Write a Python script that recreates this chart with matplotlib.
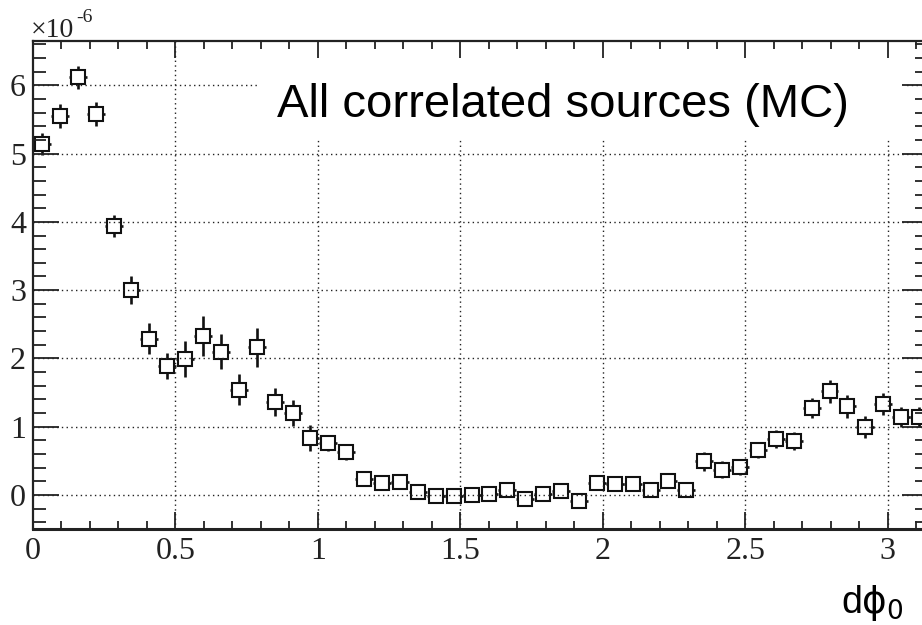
import numpy as np
import matplotlib
matplotlib.use("Agg")
import matplotlib.pyplot as plt
from matplotlib.patches import Rectangle
from matplotlib.ticker import MultipleLocator

# Histogram contents (units of 1e-6), 50 bins over [0, pi]
n_bins = 50
values = [5.14, 5.55, 6.12, 5.58, 3.94, 3.00, 2.29, 1.89, 1.99, 2.33,
          2.10, 1.54, 2.16, 1.36, 1.20, 0.83, 0.76, 0.625, 0.234, 0.17,
          0.195, 0.04, -0.02, -0.02, 0.00, 0.02, 0.07, -0.06, 0.01, 0.05,
          -0.09, 0.17, 0.16, 0.16, 0.07, 0.20, 0.07, 0.49, 0.37, 0.41,
          0.66, 0.82, 0.79, 1.27, 1.52, 1.30, 1.00, 1.33, 1.14, 1.14]
errors = [0.16, 0.17, 0.17, 0.17, 0.16, 0.20, 0.23, 0.19, 0.26, 0.29,
          0.26, 0.23, 0.28, 0.20, 0.19, 0.19, 0.12, 0.12, 0.09, 0.09,
          0.09, 0.08, 0.08, 0.08, 0.08, 0.08, 0.09, 0.08, 0.08, 0.09,
          0.09, 0.09, 0.09, 0.09, 0.09, 0.10, 0.09, 0.14, 0.12, 0.12,
          0.12, 0.13, 0.13, 0.15, 0.17, 0.17, 0.16, 0.16, 0.15, 0.15]
x_ticks = [0, 0.5, 1, 1.5, 2, 2.5, 3]
x_ticklabels = ["0", "0.5", "1", "1.5", "2", "2.5", "3"]
y_ticks = [0, 1, 2, 3, 4, 5, 6]
y_ticklabels = ["0", "1", "2", "3", "4", "5", "6"]
title_text = "All correlated sources (MC)"

edges = np.linspace(0, np.pi, n_bins + 1)
centers = 0.5 * (edges[:-1] + edges[1:])
half_width = 0.5 * (edges[1] - edges[0])

W, H = 922, 625
fig = plt.figure(figsize=(W / 100, H / 100), dpi=100)
fig.patch.set_facecolor("white")

left_px, right_px, top_px, bottom_px = 33, 928, 41, 529
ax = fig.add_axes([left_px / W, 1 - bottom_px / H,
                   (right_px - left_px) / W, (bottom_px - top_px) / H])

ax.set_xlim(0, np.pi)
ax.set_ylim(-0.5, 6.65)

ink = "#111111"
ax.errorbar(centers, values, yerr=errors, xerr=half_width, fmt="s",
            ms=9.8, mfc="white", mec=ink, mew=1.5,
            ecolor=ink, elinewidth=1.9, capsize=0, zorder=2.2)

# Dotted grid at the major ticks, drawn over the markers
grid_style = dict(color="#222222", linestyle=(0, (1, 2.4)), linewidth=1.0,
                  zorder=2.5)
for xv in x_ticks[1:]:
    ax.axvline(xv, **grid_style)
for yv in y_ticks:
    ax.axhline(yv, **grid_style)

# White box behind the label
ax.add_patch(Rectangle((0.786, 5.23), 2.27, 1.5, facecolor="white",
                       edgecolor="none", zorder=2.7))

serif = "Liberation Serif"
ax.set_xticks(x_ticks)
ax.set_xticklabels(x_ticklabels, fontfamily=serif, fontsize=23)
ax.set_yticks(y_ticks)
ax.set_yticklabels(y_ticklabels, fontfamily=serif, fontsize=23)
ax.xaxis.set_minor_locator(MultipleLocator(0.1))
ax.yaxis.set_minor_locator(MultipleLocator(0.2))

ax.tick_params(axis="both", which="both", direction="in", top=True,
               right=True, colors="#222222", width=1.3)
ax.tick_params(axis="x", which="major", length=12, pad=6)
ax.tick_params(axis="x", which="minor", length=6)
ax.tick_params(axis="y", which="major", length=18.5, pad=5)
ax.tick_params(axis="y", which="minor", length=9.5)
ax.xaxis.set_zorder(3)
ax.yaxis.set_zorder(3)

for s in ax.spines.values():
    s.set_linewidth(1.6)
    s.set_color("#222222")
    s.set_zorder(3)
ax.spines["bottom"].set_linewidth(2.2)

# Exponent marker
fig.text(31 / W, 1 - 37 / H, "\u00d710", fontfamily=serif, fontsize=20,
         ha="left", va="baseline", color="#222222")
fig.text(76 / W, 1 - 22 / H, "-6", fontfamily=serif, fontsize=14,
         ha="left", va="baseline", color="#222222")

fig.text(277 / W, 1 - 117 / H, title_text, fontfamily="Liberation Sans",
         fontsize=34, ha="left", va="baseline", color="black")

plt.rcParams["mathtext.fontset"] = "dejavusans"
fig.text(904 / W, 1 - 613 / H, r"d$\mathrm{\phi}_{\mathrm{0}}$",
         fontfamily="Liberation Sans", fontsize=27, ha="right",
         va="baseline", color="black")

fig.savefig("out.png", dpi=100, facecolor="white")
